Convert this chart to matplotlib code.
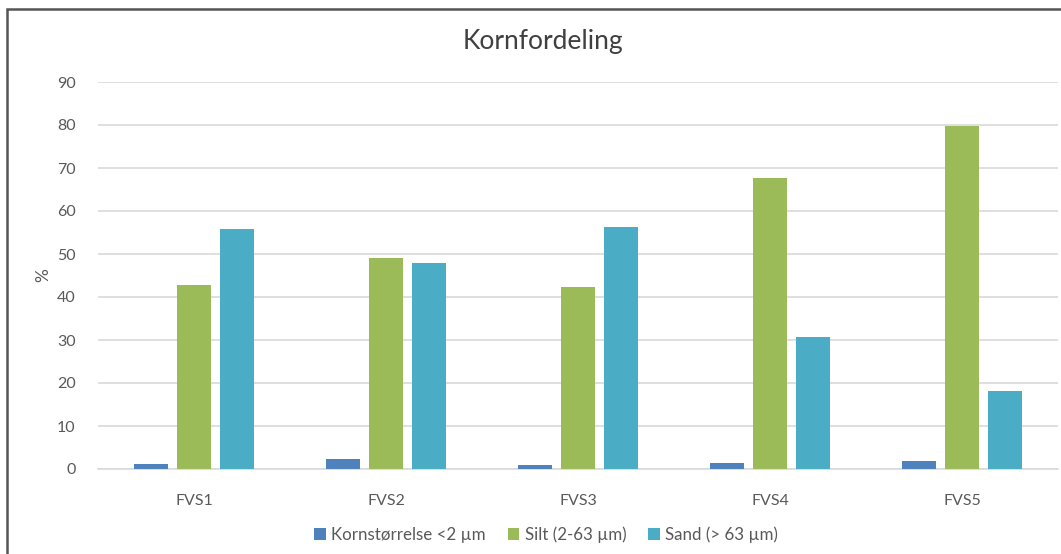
import numpy as np
import matplotlib.pyplot as plt
from matplotlib.patches import Rectangle

plt.rcParams['font.family'] = ['Lato', 'DejaVu Sans']

samples = ['FVS1', 'FVS2', 'FVS3', 'FVS4', 'FVS5']
clay = [1.2, 2.3, 1.0, 1.4, 1.9]
silt = [42.8, 49.1, 42.3, 67.7, 79.8]
sand = [55.7, 48.0, 56.3, 30.7, 18.1]
series_names = ['Kornstørrelse <2 µm', 'Silt (2-63 µm)', 'Sand (> 63 µm)']
colors = ['#4F81BD', '#9BBB59', '#4BACC6']

fig = plt.figure(figsize=(10.61, 5.54), dpi=100)
ax = fig.add_axes([98 / 1061, 1 - 469 / 554, 960 / 1061, (469 - 82) / 554])

x = np.arange(len(samples))
w = 0.177
off = 0.224
for i, (vals, name, c) in enumerate(zip([clay, silt, sand], series_names, colors)):
    ax.bar(x + (i - 1) * off, vals, width=w, color=c, label=name, zorder=3)

ax.set_xlim(-0.5, len(samples) - 0.5)
ax.set_ylim(0, 90)
ax.set_yticks(range(0, 91, 10))
ax.set_xticks(x)
ax.set_xticklabels(samples)
ax.grid(axis='y', color='#D9D9D9', linewidth=1.2, zorder=0)
for s in ['top', 'right', 'left']:
    ax.spines[s].set_visible(False)
ax.spines['bottom'].set_color('#D9D9D9')
ax.spines['bottom'].set_linewidth(1.2)
ax.tick_params(axis='both', length=0, colors='#595959', labelsize=11.5)
ax.tick_params(axis='y', pad=16)
ax.tick_params(axis='x', pad=18)
ax.set_ylabel('%', fontsize=12.5, color='#595959', labelpad=4)

fig.text(543 / 1061, 1 - 41 / 554, 'Kornfordeling', ha='center', va='center',
         fontsize=19, color='#404040')

fig.legend(loc='center', bbox_to_anchor=(546 / 1061, 1 - 535 / 554), ncol=3,
           frameon=False, fontsize=12.2, handlelength=0.7, handleheight=0.7,
           handletextpad=0.3, columnspacing=1.3, labelcolor='#595959')

# outer chart frame
fig.patches.append(Rectangle((7 / 1061, -0.05), 1.1, 1 - 9 / 554 + 0.05,
                             transform=fig.transFigure, fill=False,
                             edgecolor='#555555', linewidth=1.8))

fig.savefig('out.png', dpi=100)
